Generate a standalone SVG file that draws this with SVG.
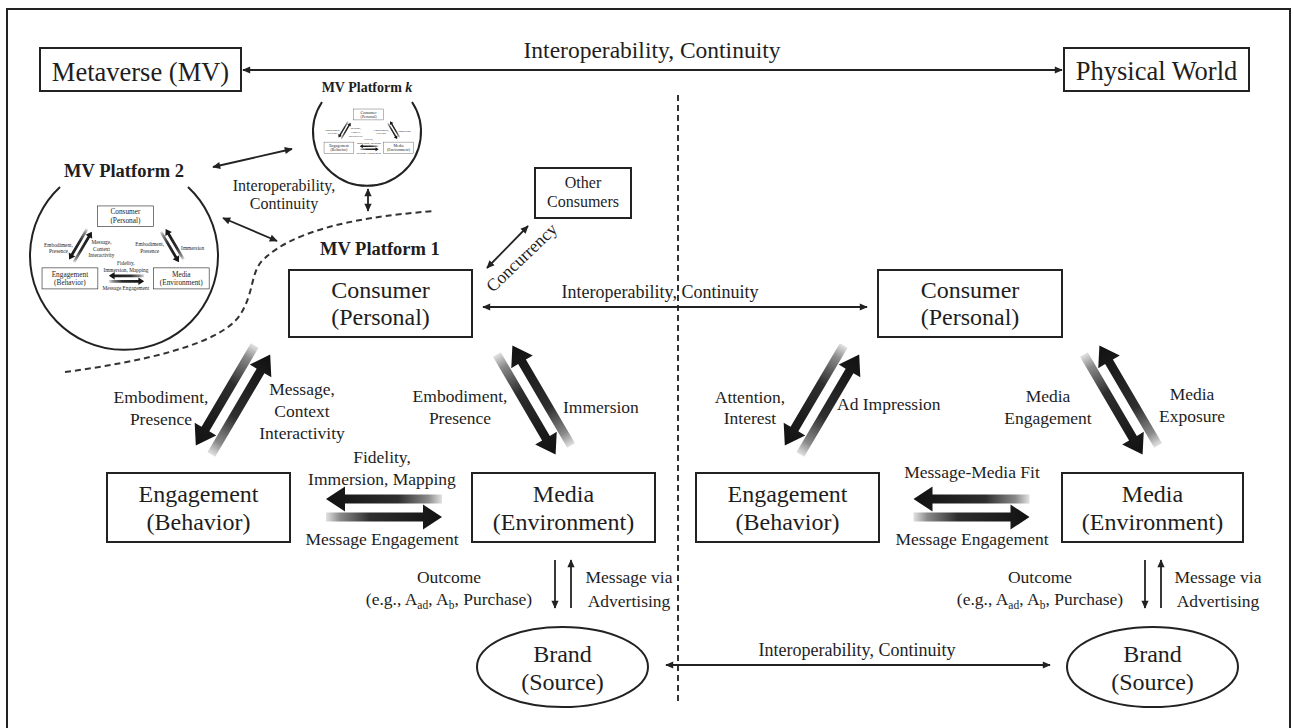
<svg xmlns="http://www.w3.org/2000/svg" xmlns:xlink="http://www.w3.org/1999/xlink" width="1293" height="728" viewBox="0 0 1293 728">
<style>
  .box{fill:#fff;stroke:#222;stroke-width:2}
  .t{font-family:"Liberation Serif","Times New Roman",serif;fill:#1e1e1e}
  .c{text-anchor:middle}
  .e{text-anchor:end}
  .big{font-size:24px}
  .lab{font-size:17.5px}
  .bold{font-weight:bold}
  .ln{stroke:#222;stroke-width:1.8;fill:none}
  .dash{stroke:#333;stroke-width:2;stroke-dasharray:6 4;fill:none}
  .ring{stroke:#222;stroke-width:2;fill:none}
</style>
<defs>
  <marker id="ah" viewBox="0 0 10 10" refX="9" refY="5" markerWidth="9" markerHeight="8" orient="auto-start-reverse" markerUnits="userSpaceOnUse">
    <path d="M0,0.5 L10,5 L0,9.5 z" fill="#222"/>
  </marker>
  <!-- tail fade of the thick block arrows -->
  <linearGradient id="fade" gradientUnits="userSpaceOnUse" x1="-58" y1="0" x2="58" y2="0">
    <stop offset="0" stop-color="#e2e2e2"/>
    <stop offset="0.12" stop-color="#8a8a8a"/>
    <stop offset="0.38" stop-color="#2e2e2e"/>
    <stop offset="1" stop-color="#111"/>
  </linearGradient>
  <path id="blk" d="M-58,-4.5 L39,-4.5 L39,-12.5 L58,0 L39,12.5 L39,4.5 L-58,4.5 Z" fill="url(#fade)"/>
  <g id="pair">
    <use href="#blk" transform="translate(0,9)"/>
    <use href="#blk" transform="translate(0,-9) rotate(180)"/>
  </g>
</defs>

<rect x="7" y="9" width="1283" height="760" fill="#fff" stroke="#222" stroke-width="2"/>

<!-- worlds -->
<g id="metaverse">
  <rect class="box" x="40" y="48" width="201" height="43"/>
  <text class="t c" x="140.5" y="81" font-size="26.5">Metaverse (MV)</text>
</g>
<g id="physical-world">
  <rect class="box" x="1064" y="48" width="185" height="43"/>
  <text class="t c" x="1156.5" y="80" font-size="26.5">Physical World</text>
</g>

<!-- MV platform 1: consumer / engagement / media triad -->
<g id="mv1-core">
  <g id="mv-consumer">
    <rect class="box" x="289" y="270" width="183" height="67"/>
    <text class="t c big" x="380.5" y="298">Consumer</text>
    <text class="t c big" x="380.5" y="325">(Personal)</text>
  </g>
  <g id="mv-engagement">
    <rect class="box" x="107" y="473" width="183" height="69"/>
    <text class="t c big" x="198.5" y="502">Engagement</text>
    <text class="t c big" x="198.5" y="530">(Behavior)</text>
  </g>
  <g id="mv-media">
    <rect class="box" x="472" y="473" width="183" height="69"/>
    <text class="t c big" x="563.5" y="502">Media</text>
    <text class="t c big" x="563.5" y="530">(Environment)</text>
  </g>
  <g id="mv-links">
    <use href="#pair" transform="translate(233,400) rotate(-59.5)"/>
    <use href="#pair" transform="translate(534,400) rotate(59.6)"/>
    <use href="#pair" transform="translate(384,508)"/>
    <text class="t c lab" x="161" y="403">Embodiment,</text>
    <text class="t c lab" x="161" y="425">Presence</text>
    <text class="t c lab" x="302" y="395">Message,</text>
    <text class="t c lab" x="302" y="417">Context</text>
    <text class="t c lab" x="302" y="439">Interactivity</text>
    <text class="t c lab" x="460" y="402">Embodiment,</text>
    <text class="t c lab" x="460" y="424">Presence</text>
    <text class="t lab" x="563" y="413">Immersion</text>
    <text class="t c lab" x="382" y="463">Fidelity,</text>
    <text class="t c lab" x="382" y="485">Immersion, Mapping</text>
    <text class="t c lab" x="382" y="545">Message Engagement</text>
  </g>
</g>

<g id="mv-platform-1-label">
  <text class="t bold" x="320" y="255" font-size="18.5px">MV Platform 1</text>
</g>

<!-- MV platform 2 -->
<g id="mv-platform-2">
  <path class="ring" d="M60,187 A94,94 0 1 0 188,187"/>
  <text class="t c bold" x="124" y="177" font-size="18.5px">MV Platform 2</text>
  <use href="#mv1-core" transform="translate(9.4,123.6) scale(0.305)"/>
</g>

<!-- MV platform k -->
<g id="mv-platform-k">
  <path class="ring" d="M322,102 A54,54 0 1 0 412,102"/>
  <text class="t c bold" x="367" y="92" font-size="14px">MV Platform <tspan font-style="italic">k</tspan></text>
  <use href="#mv1-core" transform="translate(306.6,65) scale(0.163)"/>
</g>

<g id="other-consumers">
  <rect class="box" x="535" y="168" width="96" height="50"/>
  <text class="t c" x="583" y="188" font-size="16px">Other</text>
  <text class="t c" x="583" y="207" font-size="16px">Consumers</text>
</g>

<!-- physical world triad -->
<g id="pw-consumer">
  <rect class="box" x="878" y="270" width="184" height="67"/>
  <text class="t c big" x="970" y="298">Consumer</text>
  <text class="t c big" x="970" y="325">(Personal)</text>
</g>
<g id="pw-engagement">
  <rect class="box" x="696" y="473" width="183" height="69"/>
  <text class="t c big" x="787.5" y="502">Engagement</text>
  <text class="t c big" x="787.5" y="530">(Behavior)</text>
</g>
<g id="pw-media">
  <rect class="box" x="1062" y="473" width="181" height="69"/>
  <text class="t c big" x="1152.5" y="502">Media</text>
  <text class="t c big" x="1152.5" y="530">(Environment)</text>
</g>

<!-- brands -->
<g id="mv-brand">
  <ellipse cx="562.5" cy="667" rx="85.5" ry="40" fill="#fff" stroke="#222" stroke-width="2"/>
  <text class="t c big" x="562.5" y="662">Brand</text>
  <text class="t c big" x="562.5" y="690">(Source)</text>
</g>
<g id="pw-brand">
  <ellipse cx="1152.5" cy="667" rx="85.5" ry="40" fill="#fff" stroke="#222" stroke-width="2"/>
  <text class="t c big" x="1152.5" y="662">Brand</text>
  <text class="t c big" x="1152.5" y="690">(Source)</text>
</g>

<!-- connectors -->
<g id="connectors">
  <!-- boundaries -->
  <line class="dash" x1="678" y1="95" x2="678" y2="704"/>
  <path class="dash" d="M65,372 C140,362 220,345 240,315 C255,292 250,270 265,258 C290,235 340,218 435,211"/>

  <!-- world link -->
  <line class="ln" x1="243" y1="70" x2="1062" y2="70" marker-start="url(#ah)" marker-end="url(#ah)"/>
  <text class="t c" x="652" y="58" font-size="23.5px">Interoperability, Continuity</text>

  <!-- platform links -->
  <line class="ln" x1="213" y1="167" x2="292" y2="149" marker-start="url(#ah)" marker-end="url(#ah)"/>
  <line class="ln" x1="223" y1="218" x2="277" y2="241" marker-start="url(#ah)" marker-end="url(#ah)"/>
  <line class="ln" x1="368" y1="189" x2="368" y2="211" marker-start="url(#ah)" marker-end="url(#ah)"/>
  <text class="t c" x="284" y="191" font-size="16px">Interoperability,</text>
  <text class="t c" x="284" y="209" font-size="16px">Continuity</text>

  <!-- concurrency -->
  <line class="ln" x1="487" y1="268" x2="528" y2="226" marker-start="url(#ah)" marker-end="url(#ah)"/>
  <text class="t lab" transform="translate(493,293) rotate(-43.7)" font-size="18px">Concurrency</text>

  <!-- consumer link across worlds -->
  <line class="ln" x1="483" y1="307" x2="867" y2="307" marker-start="url(#ah)" marker-end="url(#ah)"/>
  <text class="t c" x="660" y="298" font-size="18px">Interoperability, Continuity</text>

  <!-- brand link across worlds -->
  <line class="ln" x1="666" y1="665" x2="1050" y2="665" marker-start="url(#ah)" marker-end="url(#ah)"/>
  <text class="t c" x="857" y="656" font-size="18px">Interoperability, Continuity</text>

  <!-- MV media / brand -->
  <line class="ln" x1="555" y1="560" x2="555" y2="608" marker-end="url(#ah)"/>
  <line class="ln" x1="571" y1="608" x2="571" y2="560" marker-end="url(#ah)"/>
  <text class="t c lab" x="449" y="583">Outcome</text>
  <text class="t c lab" x="449" y="605">(e.g., A<tspan font-size="11.5px" dy="4">ad</tspan><tspan dy="-4">, A</tspan><tspan font-size="11.5px" dy="4">b</tspan><tspan dy="-4">, Purchase)</tspan></text>
  <text class="t c lab" x="629" y="583">Message via</text>
  <text class="t c lab" x="629" y="607">Advertising</text>

  <!-- physical triad links -->
  <use href="#pair" transform="translate(822,400) rotate(-59.5)"/>
  <use href="#pair" transform="translate(1121,400) rotate(59.6)"/>
  <use href="#pair" transform="translate(971.5,508)"/>
  <text class="t c lab" x="750" y="403">Attention,</text>
  <text class="t c lab" x="750" y="424">Interest</text>
  <text class="t lab" x="837" y="410">Ad Impression</text>
  <text class="t c lab" x="1048" y="402">Media</text>
  <text class="t c lab" x="1048" y="424">Engagement</text>
  <text class="t c lab" x="1192" y="400">Media</text>
  <text class="t c lab" x="1192" y="422">Exposure</text>
  <text class="t c lab" x="972" y="478">Message-Media Fit</text>
  <text class="t c lab" x="972" y="545">Message Engagement</text>

  <!-- physical media / brand -->
  <line class="ln" x1="1145" y1="560" x2="1145" y2="608" marker-end="url(#ah)"/>
  <line class="ln" x1="1161" y1="608" x2="1161" y2="560" marker-end="url(#ah)"/>
  <text class="t c lab" x="1040" y="583">Outcome</text>
  <text class="t c lab" x="1040" y="605">(e.g., A<tspan font-size="11.5px" dy="4">ad</tspan><tspan dy="-4">, A</tspan><tspan font-size="11.5px" dy="4">b</tspan><tspan dy="-4">, Purchase)</tspan></text>
  <text class="t c lab" x="1218" y="583">Message via</text>
  <text class="t c lab" x="1218" y="607">Advertising</text>
</g>
</svg>
